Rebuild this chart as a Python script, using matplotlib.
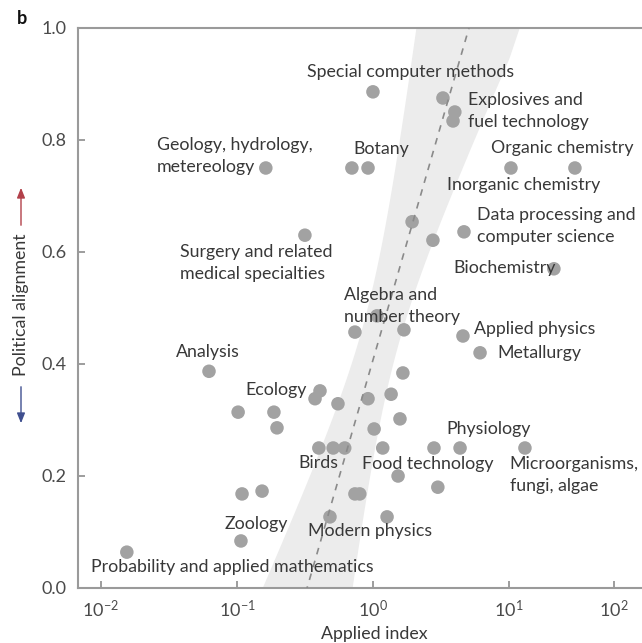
import numpy as np
import matplotlib
matplotlib.use("Agg")
import matplotlib.pyplot as plt
import matplotlib.ticker as mticker

plt.rcParams.update({
    "font.family": ["Lato", "DejaVu Sans"],
    "mathtext.default": "regular",
    "font.size": 12,
})

# =========================
# Data: applied index vs political alignment per field
# =========================
applied_index = [
    1.0, 3.27, 4.0, 3.88, 0.70, 0.92, 0.163, 10.45, 42.5, 1.94,
    2.76, 4.67, 26.8, 0.316, 0.737, 1.07, 1.69, 4.59, 6.13, 1.66,
    1.36, 1.58, 1.02, 0.92, 0.553, 0.408, 0.375, 0.102, 0.187, 0.197,
    0.40, 0.51, 0.62, 1.18, 2.81, 4.37, 14.2, 1.53, 3.0, 0.737,
    0.80, 0.483, 1.27, 0.109, 0.153, 0.107, 0.0623, 0.0155,
]
political_alignment = [
    0.886, 0.875, 0.850, 0.834, 0.750, 0.750, 0.750, 0.750, 0.750, 0.654,
    0.621, 0.636, 0.570, 0.630, 0.457, 0.486, 0.461, 0.450, 0.420, 0.384,
    0.346, 0.302, 0.284, 0.338, 0.329, 0.352, 0.338, 0.314, 0.314, 0.286,
    0.250, 0.250, 0.250, 0.250, 0.250, 0.250, 0.250, 0.200, 0.180, 0.168,
    0.168, 0.127, 0.127, 0.168, 0.173, 0.084, 0.387, 0.064,
]

field_names = [
    "Special computer methods", "Explosives and\nfuel technology",
    "Geology, hydrology,\nmetereology", "Botany", "Organic chemistry",
    "Inorganic chemistry", "Data processing and\ncomputer science",
    "Biochemistry", "Surgery and related\nmedical specialties",
    "Algebra and\nnumber theory", "Applied physics", "Metallurgy",
    "Analysis", "Ecology", "Birds", "Food technology", "Physiology",
    "Microorganisms,\nfungi, algae", "Zoology", "Modern physics",
    "Probability and applied mathematics",
]

# regression of alignment on log10(applied index)
fit_intercept = 0.407
fit_slope = 0.84

# label placement: (x, y, horizontal alignment)
label_pos = [
    (1.90, 0.921, "center"), (5.0, 0.852, "left"), (0.0258, 0.771, "left"),
    (1.16, 0.784, "center"), (32.0, 0.786, "center"), (13.9, 0.720, "center"),
    (5.82, 0.646, "left"), (3.87, 0.571, "left"), (0.0381, 0.580, "left"),
    (0.612, 0.504, "left"), (5.53, 0.4625, "left"), (8.17, 0.420, "left"),
    (0.0612, 0.421, "center"), (0.194, 0.354, "center"), (0.394, 0.223, "center"),
    (2.54, 0.221, "center"), (7.1, 0.284, "center"), (10.2, 0.202, "left"),
    (0.138, 0.114, "center"), (0.95, 0.102, "center"), (0.0918, 0.0375, "center"),
]


# upper decade of the axis is drawn narrower than the others
def fwd(x):
    l = np.log10(np.clip(x, 1e-12, None))
    return np.where(l > 1, 1 + (l - 1) * 105 / 136, l)


def inv(t):
    l = np.where(t > 1, 1 + (t - 1) * 136 / 105, t)
    return 10 ** l


fig = plt.figure(figsize=(6.42, 6.43), dpi=100)
W, H = 642, 643
ax = fig.add_axes([78 / W, 1 - 588 / H, (642 - 78) / W, (588 - 28) / H])
ax.set_xscale("function", functions=(fwd, inv))
ax.set_xlim(0.00678, 185)
ax.set_ylim(0, 1)

# confidence band around the fit
yy = np.linspace(0, 1, 200)
centre = (yy - fit_intercept) / fit_slope
half = np.sqrt(0.0225 + 0.43 * (yy - 0.45) ** 2)
ax.fill_betweenx(yy, 10 ** (centre - half), 10 ** (centre + half),
                 color="#ececec", linewidth=0, zorder=0)

ax.scatter(applied_index, political_alignment, s=95, color="#a2a2a2",
           edgecolors="none", zorder=2)

xl = np.logspace(-1, 1, 200)
ax.plot(xl, fit_intercept + fit_slope * np.log10(xl), color="#8a8a8a",
        lw=1.2, dashes=(4, 4), zorder=3)

for name, (x, y, ha) in zip(field_names, label_pos):
    ax.text(x, y, name, ha=ha, va="center", fontsize=12.8, color="#383838",
            linespacing=1.48, zorder=4)

ax.xaxis.set_major_locator(mticker.FixedLocator([1e-2, 1e-1, 1, 10, 100]))
ax.xaxis.set_major_formatter(mticker.FixedFormatter(
    ["$10^{-2}$", "$10^{-1}$", "$10^{0}$", "$10^{1}$", "$10^{2}$"]))
ax.xaxis.set_minor_locator(mticker.NullLocator())
ax.set_yticks([0, 0.2, 0.4, 0.6, 0.8, 1.0])
ax.yaxis.set_major_formatter(mticker.FormatStrFormatter("%.1f"))
ax.tick_params(direction="in", length=5, width=1.2, color="#8c8c8c",
               labelcolor="#4a4a4a", labelsize=13, pad=8)

for s in ["left", "bottom", "top"]:
    ax.spines[s].set_color("#9a9a9a")
    ax.spines[s].set_linewidth(1.5)
ax.spines["right"].set_visible(False)

ax.set_xlabel("Applied index", fontsize=12.8, color="#383838")
ax.xaxis.set_label_coords((374 - 78) / 564, -0.067)

# y label with direction arrows
fig.text(21 / W, 1 - 305 / H, "Political alignment", rotation=90,
         ha="center", va="center", fontsize=12.8, color="#383838")
ax.annotate("", xy=(21, H - 185), xytext=(21, H - 228), xycoords="figure pixels",
            arrowprops=dict(arrowstyle="-|>,head_length=0.5,head_width=0.2",
                            color="#b2404a", lw=1.0))
ax.annotate("", xy=(21, H - 426), xytext=(21, H - 384), xycoords="figure pixels",
            arrowprops=dict(arrowstyle="-|>,head_length=0.5,head_width=0.2",
                            color="#3f4f8f", lw=1.0))

fig.text(22 / W, 1 - 18 / H, "b", fontsize=13, fontweight="bold",
         ha="center", va="center", color="#111111")

fig.savefig("out.png", dpi=100)
